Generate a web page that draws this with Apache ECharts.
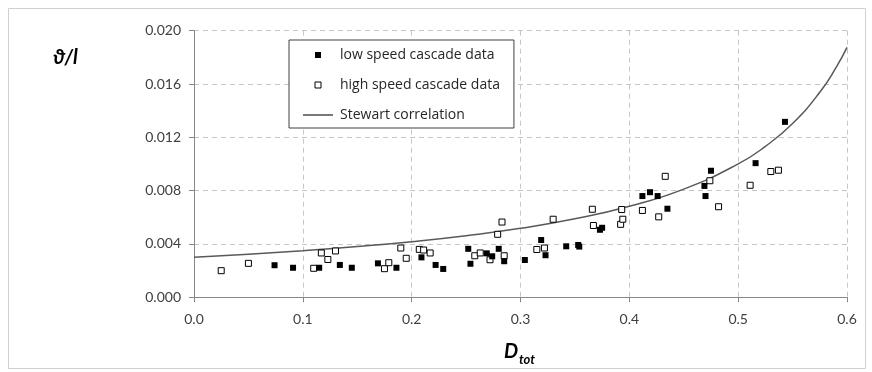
<!DOCTYPE html>
<html>
<head>
<meta charset="utf-8">
<script src="https://cdn.jsdelivr.net/npm/echarts@6/dist/echarts.min.js"></script>
<style>
  html, body { margin: 0; padding: 0; background: #ffffff; }
  #chart { width: 872px; height: 372px; }
</style>
</head>
<body>
<div id="chart"></div>
<script>
// Axis ticks
const xTicks = [0.0, 0.1, 0.2, 0.3, 0.4, 0.5, 0.6];
const yTicks = [0.000, 0.004, 0.008, 0.012, 0.016, 0.020];

// Low speed cascade data: D_tot and loss parameter
const lowD = [0.074, 0.091, 0.115, 0.134, 0.145, 0.169, 0.186, 0.209, 0.222, 0.229,
              0.252, 0.254, 0.269, 0.274, 0.280, 0.285, 0.304, 0.319, 0.323, 0.342,
              0.353, 0.354, 0.373, 0.375, 0.412, 0.419, 0.426, 0.435, 0.469, 0.470,
              0.475, 0.516, 0.543];
const lowV = [0.00240, 0.00221, 0.00221, 0.00242, 0.00221, 0.00254, 0.00221, 0.00299, 0.00242, 0.00212,
              0.00363, 0.00251, 0.00329, 0.00307, 0.00363, 0.00270, 0.00279, 0.00429, 0.00315, 0.00382,
              0.00392, 0.00380, 0.00506, 0.00521, 0.00759, 0.00788, 0.00759, 0.00664, 0.00835, 0.00759,
              0.00949, 0.01006, 0.01316];

// High speed cascade data
const highD = [0.025, 0.050, 0.110, 0.117, 0.123, 0.130, 0.175, 0.179, 0.190, 0.195,
               0.207, 0.211, 0.217, 0.258, 0.263, 0.272, 0.279, 0.283, 0.285, 0.315,
               0.322, 0.330, 0.366, 0.367, 0.392, 0.393, 0.394, 0.412, 0.427, 0.433,
               0.474, 0.482, 0.511, 0.530, 0.537];
const highV = [0.00199, 0.00254, 0.00217, 0.00332, 0.00283, 0.00347, 0.00214, 0.00259, 0.00369, 0.00292,
               0.00359, 0.00354, 0.00332, 0.00311, 0.00332, 0.00281, 0.00472, 0.00564, 0.00311, 0.00358,
               0.00369, 0.00585, 0.00660, 0.00538, 0.00547, 0.00658, 0.00585, 0.00651, 0.00603, 0.00907,
               0.00874, 0.00679, 0.00840, 0.00943, 0.00953];

// Stewart correlation curve
const stewD = [0.00, 0.05, 0.10, 0.15, 0.20, 0.25, 0.30, 0.35, 0.40, 0.45, 0.50, 0.525, 0.55, 0.575, 0.59, 0.60];
const stewV = [0.00300, 0.00323, 0.00349, 0.00380, 0.00417, 0.00462, 0.00517, 0.00588, 0.00682, 0.00811,
               0.01000, 0.01132, 0.01304, 0.01538, 0.01724, 0.01875];

const zip = (xs, ys) => xs.map((x, i) => [x, ys[i]]);

const fontFamily = 'Lato, "Open Sans", sans-serif';
const tickColor = '#404040';
const axisGray = '#868686';
const gridStyle = { color: '#c6c6c6', type: [5, 4], width: 1 };

// Legend icons: a small square for the markers, a thin bar for the curve
const squareIcon = 'path://M0,0 H1 V1 H0 Z';
const lineIcon = 'path://M0,0 H30 V1.4 H0 Z';

const chart = echarts.init(document.getElementById('chart'), null, { renderer: 'canvas' });

chart.setOption({
  backgroundColor: '#ffffff',
  animation: false,
  grid: { left: 194, right: 25, top: 30.7, bottom: 74.8, containLabel: false },
  xAxis: {
    type: 'value',
    min: xTicks[0],
    max: xTicks[xTicks.length - 1],
    interval: 0.1,
    axisLine: { show: true, onZero: false, lineStyle: { color: axisGray, width: 1 } },
    axisTick: { show: true, length: 5, lineStyle: { color: axisGray } },
    axisLabel: {
      color: tickColor, fontSize: 14, fontFamily, margin: 15,
      formatter: v => v.toFixed(1)
    },
    splitLine: { show: true, lineStyle: gridStyle }
  },
  yAxis: {
    type: 'value',
    min: yTicks[0],
    max: yTicks[yTicks.length - 1],
    interval: 0.004,
    axisLine: { show: true, lineStyle: { color: axisGray, width: 1 } },
    axisTick: { show: true, length: 5, lineStyle: { color: axisGray } },
    axisLabel: {
      color: tickColor, fontSize: 14, fontFamily, margin: 13,
      formatter: v => v.toFixed(3)
    },
    splitLine: { show: true, lineStyle: gridStyle }
  },
  legend: {
    orient: 'vertical',
    left: 289,
    top: 40,
    padding: [7, 14, 5, 14],
    itemGap: 14,
    itemWidth: 30,
    itemHeight: 6,
    borderColor: '#404040',
    borderWidth: 1,
    backgroundColor: '#ffffff',
    textStyle: { color: '#262626', fontSize: 14, fontFamily: '"Open Sans", Lato, sans-serif', lineHeight: 16, padding: [0, 0, 0, 2] },
    data: [
      { name: 'low speed cascade data', icon: squareIcon, itemStyle: { color: '#000000', borderWidth: 0 } },
      { name: 'high speed cascade data', icon: squareIcon, itemStyle: { color: '#ffffff', borderColor: '#000000', borderWidth: 1 } },
      { name: 'Stewart correlation', icon: lineIcon, itemStyle: { color: '#404040', borderWidth: 0 } }
    ]
  },
  series: [
    {
      name: 'high speed cascade data',
      type: 'scatter',
      symbol: 'rect',
      symbolSize: 6,
      z: 3,
      itemStyle: { color: '#ffffff', borderColor: '#000000', borderWidth: 1, opacity: 1 },
      data: zip(highD, highV)
    },
    {
      name: 'low speed cascade data',
      type: 'scatter',
      symbol: 'rect',
      symbolSize: 6,
      z: 4,
      itemStyle: { color: '#000000', opacity: 1 },
      data: zip(lowD, lowV)
    },
    {
      name: 'Stewart correlation',
      type: 'line',
      smooth: true,
      showSymbol: false,
      symbol: 'none',
      z: 2,
      lineStyle: { color: '#595959', width: 1.5 },
      itemStyle: { color: '#595959' },
      data: zip(stewD, stewV)
    }
  ],
  graphic: [
    {
      type: 'rect',
      silent: true,
      z: -10,
      shape: { x: 8.5, y: 8.5, width: 857, height: 360 },
      style: { fill: 'none', stroke: '#d0d0d0', lineWidth: 1 }
    },
    {
      type: 'text',
      left: 53,
      top: 48,
      style: { text: 'ϑ/l', font: 'italic bold 20px ' + fontFamily, fill: '#000000' }
    },
    {
      type: 'text',
      left: 504,
      top: 342,
      style: { text: 'D', font: 'italic bold 20px ' + fontFamily, fill: '#000000' }
    },
    {
      type: 'text',
      left: 519,
      top: 353,
      style: { text: 'tot', font: 'italic bold 13px ' + fontFamily, fill: '#000000' }
    }
  ]
});
</script>
</body>
</html>
